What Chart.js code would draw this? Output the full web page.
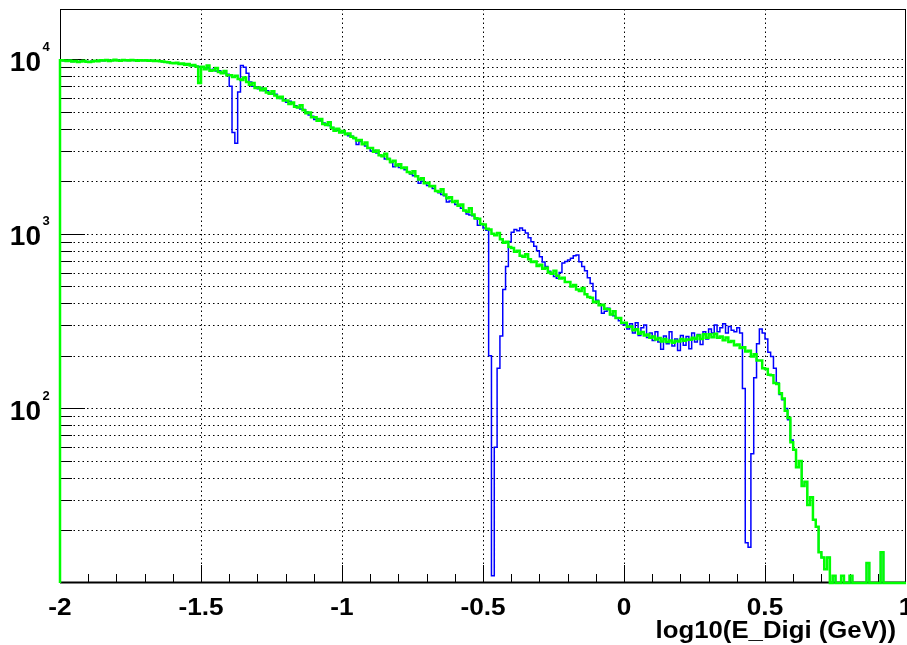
<!DOCTYPE html>
<html>
<head>
<meta charset="utf-8">
<script src="https://cdn.jsdelivr.net/npm/chart.js@4/dist/chart.umd.min.js"></script>
<style>
  html, body { margin: 0; padding: 0; background: #fff; }
  #wrap { width: 907px; height: 645px; }
  canvas { display: block; }
</style>
</head>
<body>
<div id="wrap"><canvas id="c" width="907" height="645"></canvas></div>
<script>
// Histogram binning: 300 bins of 0.01 in log10(E) from -2 to 1
const X_MIN = -2, X_MAX = 1, BIN_WIDTH = 0.01;
const Y_MIN = 10, Y_MAX = 19400;

const X_TICKS = [-2, -1.5, -1, -0.5, 0, 0.5, 1];
const X_TICK_LABELS = ['-2', '-1.5', '-1', '-0.5', '0', '0.5', '1'];
const X_GRID = [-1.5, -1, -0.5, 0, 0.5];
const Y_DECADES = [100, 1000, 10000];
const Y_DECADE_EXP = ['2', '3', '4'];
const X_TITLE = 'log10(E_Digi (GeV))';

// Bin contents, one row per 0.1 in log10(E); row start noted on the left
const GREEN_COUNTS = [
  /* -2.0 */ 9880, 9820, 9760, 9850, 9700, 9780, 9650, 9720, 9800, 9690,
  /* -1.9 */ 9650, 9720, 9800, 9750, 9880, 9820, 9900, 9780, 9850, 9920,
  /* -1.8 */ 9850, 9800, 9900, 9870, 9830, 9910, 9860, 9800, 9880, 9840,
  /* -1.7 */ 9860, 9800, 9850, 9760, 9810, 9740, 9700, 9640, 9600, 9520,
  /* -1.6 */ 9480, 9560, 9380, 9450, 9300, 9380, 9200, 9280, 9100, 7300,
  /* -1.5 */ 9050, 8750, 9200, 8600, 8650, 8900, 8450, 8300, 8550, 8100,
  /* -1.4 */ 8100, 7900, 8050, 7700, 7600, 7850, 7400, 7150, 7300, 6850,
  /* -1.3 */ 6900, 6650, 6800, 6450, 6350, 6550, 6200, 6000, 6100, 5800,
  /* -1.2 */ 5800, 5550, 5650, 5350, 5300, 5450, 5100, 4900, 4950, 4650,
  /* -1.1 */ 4650, 4450, 4550, 4250, 4200, 4350, 4050, 3900, 4000, 3800,
  /* -1.0 */ 3880, 3720, 3760, 3600, 3540, 3430, 3450, 3260, 3330, 3100,
  /* -0.9 */ 3100, 2950, 3000, 2820, 2780, 2880, 2680, 2580, 2620, 2460,
  /* -0.8 */ 2500, 2380, 2400, 2260, 2220, 2280, 2140, 2050, 2080, 1950,
  /* -0.7 */ 1960, 1870, 1880, 1760, 1740, 1800, 1680, 1600, 1620, 1520,
  /* -0.6 */ 1540, 1450, 1470, 1360, 1340, 1400, 1290, 1230, 1220, 1140,
  /* -0.5 */ 1130, 1070, 1060, 1000, 980, 1010, 930, 890, 900, 840,
  /* -0.4 */ 830, 790, 800, 750, 740, 765, 715, 690, 695, 655,
  /* -0.3 */ 665, 630, 640, 600, 590, 615, 575, 555, 560, 530,
  /* -0.2 */ 530, 500, 510, 480, 470, 490, 450, 435, 430, 405,
  /* -0.1 */ 410, 390, 392, 372, 370, 345, 360, 330, 330, 310,
  /*  0.0 */ 310, 294, 295, 280, 284, 268, 274, 262, 265, 254,
  /*  0.1 */ 258, 248, 253, 242, 250, 240, 245, 238, 244, 242,
  /*  0.2 */ 250, 244, 248, 247, 254, 250, 262, 250, 266, 254,
  /*  0.3 */ 266, 256, 268, 254, 258, 246, 255, 240, 243, 230,
  /*  0.4 */ 232, 222, 224, 212, 214, 198, 204, 188, 188, 170,
  /*  0.5 */ 168, 156, 155, 140, 138, 122, 114, 97, 88, 64,
  /*  0.6 */ 58, 46, 50, 36, 38, 28, 31, 23, 21, 15,
  /*  0.7 */ 14, 12, 14, 0, 11, 0, 0, 11, 0, 0,
  /*  0.8 */ 11, 0, 0, 0, 0, 0, 13, 0, 0, 0,
  /*  0.9 */ 0, 15, 0, 0, 0, 0, 0, 0, 0, 0
];

const BLUE_COUNTS = [
  /* -2.0 */ 9850, 9800, 9780, 9820, 9720, 9760, 9680, 9750, 9780, 9700,
  /* -1.9 */ 9680, 9750, 9780, 9760, 9850, 9800, 9880, 9800, 9830, 9880,
  /* -1.8 */ 9860, 9820, 9880, 9850, 9850, 9880, 9840, 9820, 9860, 9850,
  /* -1.7 */ 9840, 9820, 9830, 9780, 9790, 9750, 9690, 9650, 9580, 9530,
  /* -1.6 */ 9470, 9490, 9430, 9360, 9380, 9310, 9240, 9180, 9120, 9060,
  /* -1.5 */ 9000, 8850, 8950, 8700, 8750, 8550, 8600, 8400, 8350, 8200,
  /* -1.4 */ 7000, 3800, 3300, 6500, 9200, 9000, 8300, 7400, 7000, 6950,
  /* -1.3 */ 6780, 6850, 6620, 6600, 6400, 6330, 6300, 6080, 5950, 5880,
  /* -1.2 */ 5680, 5750, 5580, 5420, 5300, 5180, 5150, 4980, 4800, 4720,
  /* -1.1 */ 4520, 4560, 4450, 4320, 4250, 4180, 4060, 3960, 3920, 3860,
  /* -1.0 */ 3800, 3760, 3650, 3620, 3520, 3250, 3380, 3270, 3180, 3100,
  /* -0.9 */ 2980, 3000, 2900, 2820, 2800, 2680, 2700, 2560, 2420, 2480,
  /* -0.8 */ 2400, 2380, 2330, 2260, 2200, 2150, 2140, 1950, 2000, 1950,
  /* -0.7 */ 1890, 1870, 1820, 1760, 1720, 1680, 1650, 1520, 1540, 1520,
  /* -0.6 */ 1470, 1450, 1400, 1360, 1300, 1280, 1270, 1220, 1120, 1130,
  /* -0.5 */ 1080, 1050, 200, 11, 60, 170, 260, 480, 650, 900,
  /* -0.4 */ 1020, 1060, 1040, 1080, 1050, 1010, 950, 900, 850, 800,
  /* -0.3 */ 740, 690, 650, 610, 590, 570, 556, 600, 680, 695,
  /* -0.2 */ 708, 725, 750, 757, 693, 650, 615, 560, 520, 470,
  /* -0.1 */ 417, 390, 351, 360, 375, 345, 340, 330, 318, 305,
  /*  0.0 */ 300, 285, 305, 270, 310, 262, 290, 300, 255, 270,
  /*  0.1 */ 245, 275, 240, 218, 260, 235, 275, 228, 250, 215,
  /*  0.2 */ 262, 230, 258, 220, 270, 240, 265, 232, 275, 250,
  /*  0.3 */ 285, 270, 300, 275, 290, 305, 270, 295, 280, 275,
  /*  0.4 */ 290, 270, 130, 17, 16, 55, 150, 235, 285, 270,
  /*  0.5 */ 250, 210, 198, 170, 140, 120, 112, 100, 86, 66,
  /*  0.6 */ 58, 46, 50, 36, 38, 28, 31, 23, 21, 15,
  /*  0.7 */ 14, 12, 14, 0, 11, 0, 0, 11, 0, 0,
  /*  0.8 */ 11, 0, 0, 0, 0, 0, 13, 0, 0, 0,
  /*  0.9 */ 0, 15, 0, 0, 0, 0, 0, 0, 0, 0
];

// Histogram outline: rises from the axis at the first edge, one step per bin.
// Empty bins sit on the lower edge of the log axis.
function outline(counts) {
  const pts = [{ x: X_MIN, y: Y_MIN }];
  counts.forEach((c, i) => {
    pts.push({ x: X_MIN + i * BIN_WIDTH, y: c > 0 ? c : Y_MIN });
  });
  const last = counts[counts.length - 1];
  pts.push({ x: X_MAX, y: last > 0 ? last : Y_MIN });
  return pts;
}

function logGridValues() {
  const out = [];
  for (let d = 1; d <= 100000; d *= 10) {
    for (let m = 1; m <= 9; m++) {
      const v = m * d;
      if (v > Y_MIN && v < Y_MAX) out.push({ v, major: m === 1 });
    }
  }
  return out;
}

const FONT = '"Liberation Sans", Arial, Helvetica, sans-serif';

// Bold Helvetica-style text, slightly widened
function wideText(ctx, str, x, y, align, sx) {
  ctx.save();
  ctx.translate(x, y);
  ctx.scale(sx, 1);
  ctx.textAlign = align;
  ctx.fillText(str, 0, 0);
  ctx.restore();
}

const rootFrame = {
  id: 'rootFrame',
  beforeDatasetsDraw(chart) {
    const { ctx, chartArea: a, scales: { x, y } } = chart;
    ctx.save();
    ctx.strokeStyle = '#000';
    ctx.lineWidth = 1;

    // dotted grid
    ctx.setLineDash([1.5, 3]);
    ctx.beginPath();
    X_GRID.forEach(v => {
      const px = Math.round(x.getPixelForValue(v)) + 0.5;
      ctx.moveTo(px, a.top);
      ctx.lineTo(px, a.bottom);
    });
    logGridValues().forEach(g => {
      const py = Math.round(y.getPixelForValue(g.v)) + 0.5;
      ctx.moveTo(a.left, py);
      ctx.lineTo(a.right, py);
    });
    ctx.stroke();
    ctx.setLineDash([]);

    // tick marks, pointing into the frame
    ctx.beginPath();
    logGridValues().forEach(g => {
      const py = Math.round(y.getPixelForValue(g.v)) + 0.5;
      ctx.moveTo(a.left, py);
      ctx.lineTo(a.left + (g.major ? 25 : 12), py);
    });
    for (let k = -19; k <= 9; k++) {
      const px = Math.round(x.getPixelForValue(k / 10)) + 0.5;
      ctx.moveTo(px, a.bottom);
      ctx.lineTo(px, a.bottom - (k % 5 === 0 ? 18 : 9));
    }
    ctx.stroke();

    // frame
    ctx.strokeRect(a.left + 0.5, a.top + 0.5, a.right - a.left - 1, a.bottom - a.top - 1);
    ctx.lineWidth = 2;
    ctx.beginPath();
    ctx.moveTo(a.left, a.bottom - 0.5);
    ctx.lineTo(a.right, a.bottom - 0.5);
    ctx.stroke();
    ctx.restore();
  },
  afterDraw(chart) {
    const { ctx, scales: { x, y } } = chart;
    ctx.save();
    ctx.fillStyle = '#000';
    ctx.textBaseline = 'alphabetic';

    // x tick labels
    ctx.font = 'bold 23px ' + FONT;
    X_TICKS.forEach((v, i) => {
      wideText(ctx, X_TICK_LABELS[i], x.getPixelForValue(v), 615, 'center', 1.14);
    });

    // axis title
    wideText(ctx, X_TITLE, 896, 638, 'right', 1.12);

    // decade labels 10^n
    Y_DECADES.forEach((v, i) => {
      const py = y.getPixelForValue(v);
      ctx.font = 'bold 28px ' + FONT;
      ctx.textAlign = 'right';
      ctx.fillText('10', 41, py + 11.5);
      ctx.font = 'bold 13px ' + FONT;
      ctx.textAlign = 'left';
      ctx.fillText(Y_DECADE_EXP[i], 42.5, py - 8.5);
    });
    ctx.restore();
  }
};

new Chart(document.getElementById('c'), {
  type: 'line',
  data: {
    datasets: [
      {
        label: 'green',
        data: outline(GREEN_COUNTS),
        borderColor: '#00ff00',
        borderWidth: 2.5,
        stepped: 'before',
        pointRadius: 0,
        fill: false,
        clip: false,
        order: 0
      },
      {
        label: 'blue',
        data: outline(BLUE_COUNTS),
        borderColor: '#0000ff',
        borderWidth: 1.5,
        stepped: 'before',
        pointRadius: 0,
        fill: false,
        clip: false,
        order: 1
      }
    ]
  },
  options: {
    responsive: false,
    devicePixelRatio: 1,
    animation: false,
    events: [],
    layout: { padding: { top: 9, right: 1, bottom: 0, left: 0 } },
    plugins: { legend: { display: false }, tooltip: { enabled: false } },
    scales: {
      x: {
        type: 'linear',
        min: X_MIN,
        max: X_MAX,
        grid: { display: false },
        border: { display: false },
        ticks: { display: false },
        afterFit(s) { s.height = 62; s.paddingLeft = 0; s.paddingRight = 0; }
      },
      y: {
        type: 'logarithmic',
        min: Y_MIN,
        max: Y_MAX,
        grid: { display: false },
        border: { display: false },
        ticks: { display: false },
        afterFit(s) { s.width = 60; s.paddingTop = 0; s.paddingBottom = 0; }
      }
    }
  },
  plugins: [rootFrame]
});
</script>
</body>
</html>
